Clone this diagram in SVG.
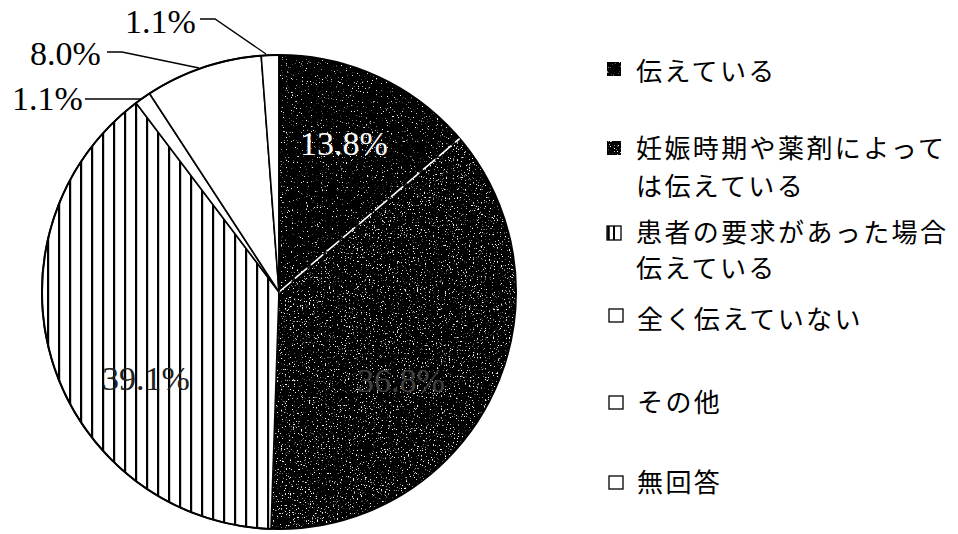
<svg xmlns="http://www.w3.org/2000/svg" width="958" height="534" viewBox="0 0 958 534">
<style>
.lbl{font-family:"Liberation Serif","Times New Roman",serif;font-size:34px;}
.leg{font-family:"Noto Sans CJK JP","Noto Sans CJK SC",sans-serif;font-size:26px;letter-spacing:2.4px;fill:#000;}
.edge{stroke:#000;stroke-width:1.6;stroke-linejoin:round;}
.lead{fill:none;stroke:#000;stroke-width:1.3;}
.box{fill:#fff;stroke:#000;stroke-width:1.3;}
</style>
<defs>
<pattern id="stripes" patternUnits="userSpaceOnUse" x="3" y="0" width="11" height="10">
<rect width="11" height="10" fill="#fff"/>
<rect x="0" y="0" width="2.2" height="10" fill="#000"/>
</pattern>
<filter id="speck1" x="0" y="0" width="100%" height="100%" color-interpolation-filters="sRGB">
<feTurbulence type="fractalNoise" baseFrequency="0.8" numOctaves="2" seed="4" result="n"/>
<feColorMatrix in="n" type="matrix" values="0 0 0 0 1  0 0 0 0 1  0 0 0 0 1  10 0 0 0 -6.7" result="w"/>
<feComposite in="w" in2="SourceGraphic" operator="in" result="wc"/>
<feMerge><feMergeNode in="SourceGraphic"/><feMergeNode in="wc"/></feMerge>
</filter>
<filter id="speck2" x="0" y="0" width="100%" height="100%" color-interpolation-filters="sRGB">
<feTurbulence type="fractalNoise" baseFrequency="0.75" numOctaves="2" seed="9" result="n"/>
<feColorMatrix in="n" type="matrix" values="0 0 0 0 1  0 0 0 0 1  0 0 0 0 1  10 0 0 0 -6.4" result="w"/>
<feComposite in="w" in2="SourceGraphic" operator="in" result="wc"/>
<feMerge><feMergeNode in="SourceGraphic"/><feMergeNode in="wc"/></feMerge>
</filter>
</defs>
<rect width="958" height="534" fill="#fff"/>

<g id="slice-tsutaeteiru">
<path d="M279,292 L279,55 A237,237 0 0 1 459.6,138.6 Z" fill="#000" filter="url(#speck1)"/>
<text class="lbl" x="300" y="155" fill="#fff">13.8%</text>
</g>
<g id="slice-ninshin">
<path d="M279,292 L459.6,138.6 A237,237 0 0 1 271,529 Z" fill="#000" filter="url(#speck2)"/>
<text class="lbl" x="357" y="392" fill="#404040">36.8%</text>
</g>
<g id="slice-kanja">
<path class="edge" d="M279,292 L271,529 A237,237 0 0 1 136.1,102.9 Z" fill="url(#stripes)"/>
<text class="lbl" x="102" y="390" fill="#222">39.1%</text>
</g>
<g id="slice-mattaku">
<path class="edge" d="M279,292 L136.1,102.9 A237,237 0 0 1 149.5,93.5 Z" fill="#fff"/>
<text class="lbl" x="12" y="110" fill="#000">1.1%</text>
</g>
<g id="slice-sonota">
<path class="edge" d="M279,292 L149.5,93.5 A237,237 0 0 1 261.2,55.7 Z" fill="#fff"/>
<text class="lbl" x="30" y="65" fill="#000">8.0%</text>
</g>
<g id="slice-mukaitou">
<path class="edge" d="M279,292 L261.2,55.7 A237,237 0 0 1 279,55 Z" fill="#fff"/>
<text class="lbl" x="125" y="33" fill="#000">1.1%</text>
</g>
<g id="pie-outline">
<circle cx="279" cy="292" r="237" fill="none" stroke="#000" stroke-width="2"/>
<line x1="279" y1="292" x2="459.6" y2="138.6" stroke="#fff" stroke-width="1.6" stroke-dasharray="16 5"/>
<line x1="279" y1="292" x2="279" y2="55" stroke="#000" stroke-width="1.6"/>
</g>

<g id="connectors">
<polyline class="lead" points="200,19 215,19 266,54"/>
<polyline class="lead" points="107,52 122,52 199,68"/>
<polyline class="lead" points="85,99 142,99"/>
</g>

<g id="legend-1">
<rect x="607" y="62" width="14" height="14" fill="#000" filter="url(#speck1)"/>
<text class="leg" x="636" y="81">伝えている</text>
</g>
<g id="legend-2">
<rect x="607" y="141" width="14" height="14" fill="#000" filter="url(#speck2)"/>
<text class="leg" x="636" y="158">妊娠時期や薬剤によって</text>
<text class="leg" x="636" y="196">は伝えている</text>
</g>
<g id="legend-3">
<rect class="box" x="607" y="226" width="14" height="14"/>
<line x1="608.5" y1="226" x2="608.5" y2="240" stroke="#000" stroke-width="2.5"/>
<line x1="614" y1="226" x2="614" y2="240" stroke="#000" stroke-width="2"/>
<text class="leg" x="636" y="242">患者の要求があった場合</text>
<text class="leg" x="636" y="278">伝えている</text>
</g>
<g id="legend-4">
<rect class="box" x="609" y="309" width="14" height="13"/>
<text class="leg" x="637" y="329">全く伝えていない</text>
</g>
<g id="legend-5">
<rect class="box" x="609" y="396" width="14" height="13"/>
<text class="leg" x="637" y="412">その他</text>
</g>
<g id="legend-6">
<rect class="box" x="609" y="476" width="14" height="13"/>
<text class="leg" x="637" y="492">無回答</text>
</g>
</svg>
